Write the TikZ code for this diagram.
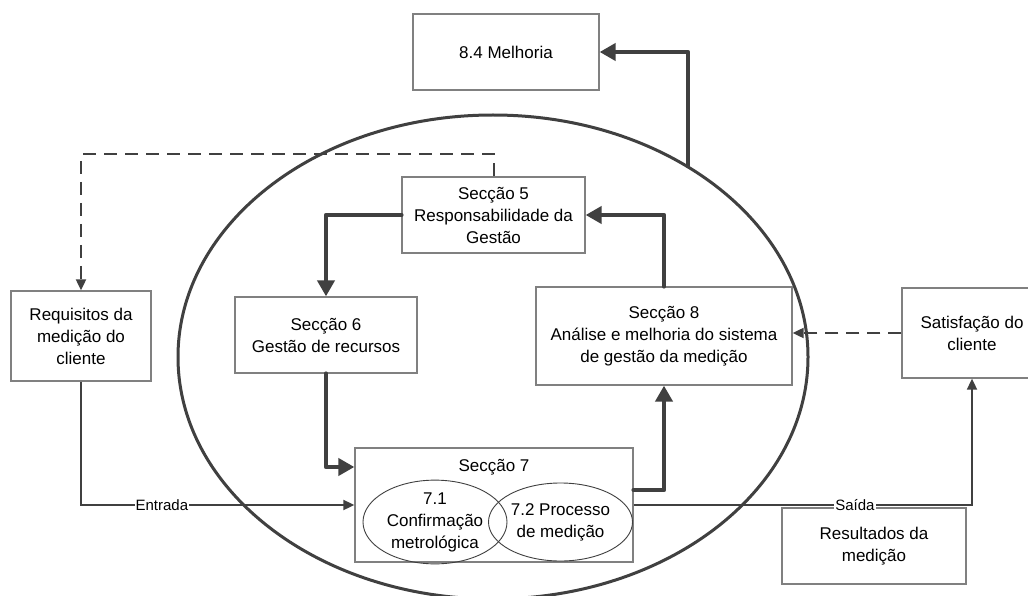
\documentclass[tikz,border=0pt]{standalone}
\usepackage{fontspec}
\setmainfont{Liberation Sans}
\usetikzlibrary{arrows.meta,shapes.geometric,calc}
\definecolor{linegray}{HTML}{404040}
\definecolor{boxgray}{HTML}{808080}
\begin{document}
\begin{tikzpicture}[x=1pt,y=-1pt,
  txt/.style={font=\fontsize{17}{22}\selectfont,text=black,align=center},
  box/.style={txt,draw=boxgray,line width=1.3pt,fill=white,rectangle,inner sep=0pt},
  subell/.style={txt,draw=linegray,line width=0.9pt,ellipse,inner sep=0pt,minimum width=144pt,minimum height=78pt},
  heavy/.style={draw=linegray,line width=4.5pt,line cap=round,line join=round,-{Triangle[length=16pt,width=17pt]}},
  light/.style={draw=linegray,line width=1.8pt,-{Triangle[length=11pt,width=10pt]}},
  dashline/.style={draw=linegray,line width=2pt,dash pattern=on 13pt off 8pt,-{Triangle[length=11pt,width=10pt]}},
  lbl/.style={font=\fontsize{15}{18}\selectfont,text=black,fill=white,inner sep=1pt}
]
\clip (0,0) rectangle (1028,596);
\fill[white] (0,0) rectangle (1028,596);

\node[draw=linegray,line width=3pt,ellipse,inner sep=0pt,minimum width=630pt,minimum height=484pt] (outer) at (493,357) {};

\node[box,minimum width=186pt,minimum height=76pt] (mel) at (506,52) {8.4 Melhoria};
\node[box,minimum width=183pt,minimum height=76pt] (s5) at (493.5,215) {Secção 5\\Responsabilidade da\\Gestão};
\node[box,minimum width=182pt,minimum height=76pt] (s6) at (326,335) {Secção 6\\Gestão de recursos};
\node[box,minimum width=256pt,minimum height=98pt] (s8) at (664,336) {Secção 8\\Análise e melhoria do sistema\\de gestão da medição};
\node[box,minimum width=140pt,minimum height=90pt] (req) at (81,336) {Requisitos da\\medição do\\cliente};
\node[box,minimum width=140pt,minimum height=90pt] (sat) at (972,333) {Satisfação do\\cliente};
\node[box,minimum width=184pt,minimum height=76pt] (res) at (874,546) {Resultados da\\medição};
\node[box,minimum width=278pt,minimum height=114pt] (s7) at (494,505) {};
\node[txt] (s7t) at (494,467) {Secção 7};
\node[subell] (e71) at (435,522) {7.1\\Confirmação\\metrológica};
\node[subell] (e72) at (560.5,522) {7.2 Processo\\de medição};

\coordinate (m0) at (688,166);
\draw[heavy] (m0) |- (mel.east);
\draw[heavy] (s5.west) -| (s6.north);
\draw[heavy] (s6.south) |- (s7.west |- s7t);
\draw[heavy] ($(s7.east)+(0,-15)$) -| (s8.south);
\draw[heavy] (s8.north) |- (s5.east);

\draw[dashline] (s5.north) -- ++(0,-22) -| (req.north);
\draw[dashline] (sat.west) -- (s8.east |- sat.west);

\draw[light] (req.south) |- node[lbl,pos=0.648] {Entrada} (s7.west);
\draw[light] (s7.east) -| node[lbl,pos=0.327] {Saída} (sat.south);
\end{tikzpicture}
\end{document}
